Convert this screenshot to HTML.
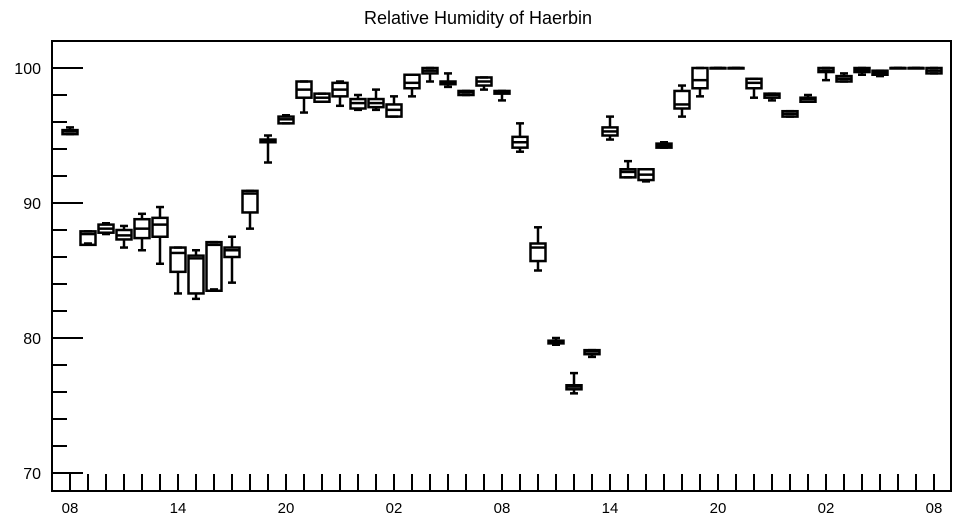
<!DOCTYPE html>
<html><head><meta charset="utf-8"><style>
html,body{margin:0;padding:0;background:#fff;}
svg{display:block;font-family:"Liberation Sans",sans-serif;}
</style></head><body>
<svg id="chart" width="957" height="520" viewBox="0 0 957 520" xmlns="http://www.w3.org/2000/svg">
<text x="478" y="24" text-anchor="middle" font-size="18" fill="#000">Relative Humidity of Haerbin</text>
<rect x="52" y="41" width="899" height="450" fill="none" stroke="#000" stroke-width="2"/>
<g id="axes"></g>
<g id="boxes"></g>
</svg>
<script>
const hourLabels = ["08","14","20","02","08","14","20","02","08"];
const yTicks = [70,80,90,100];
const mins = [95.1,87.0,87.7,86.7,86.5,85.5,83.3,82.9,83.6,84.1,88.1,93.0,95.9,96.7,97.5,97.2,96.9,96.9,96.4,97.9,99.0,98.6,98.0,98.4,97.6,93.8,85.0,79.5,75.9,78.6,94.7,91.9,91.6,94.1,96.4,97.9,100,100,97.8,97.6,96.4,97.5,99.1,99.0,99.5,99.4,100,100,99.6];
const q1s  = [95.1,86.9,87.8,87.3,87.4,87.5,84.9,83.3,83.5,86.0,89.3,94.5,95.9,97.8,97.5,97.9,97.0,97.1,96.4,98.5,99.6,98.8,98.0,98.7,98.1,94.1,85.7,79.6,76.2,78.8,95.0,91.9,91.7,94.1,97.0,98.5,100,100,98.5,97.8,96.4,97.5,99.7,99.0,99.7,99.5,100,100,99.6];
const meds = [95.3,87.7,88.1,87.6,88.1,88.4,86.3,85.9,86.9,86.5,90.7,94.6,96.2,98.4,97.8,98.4,97.4,97.4,96.9,98.9,99.8,98.9,98.2,99.0,98.2,94.5,86.7,79.7,76.4,79.0,95.3,92.3,92.1,94.25,97.3,99.1,100,100,98.9,98.0,96.6,97.7,99.8,99.2,99.85,99.65,100,100,99.8];
const q3s  = [95.4,87.9,88.4,88.0,88.8,88.9,86.7,86.1,87.1,86.7,90.9,94.7,96.4,99.0,98.1,98.9,97.7,97.7,97.3,99.5,100,99.0,98.3,99.3,98.3,94.9,87.0,79.8,76.5,79.1,95.6,92.5,92.5,94.4,98.3,100,100,100,99.2,98.1,96.8,97.8,100,99.4,100,99.8,100,100,100];
const maxs = [95.6,87.9,88.5,88.3,89.2,89.7,86.7,86.5,87.1,87.5,90.9,95.0,96.5,99.0,98.1,99.0,98.0,98.4,97.9,99.5,100,99.6,98.3,99.3,98.3,95.9,88.2,80.0,77.4,79.1,96.4,93.1,92.5,94.5,98.7,100,100,100,99.2,98.1,96.8,98.0,100,99.6,100,99.8,100,100,100];

const NS="http://www.w3.org/2000/svg";
const xOf = i => 70 + i*18;
const yOf = v => 68 + (100-v)*13.5;
function mk(tag, attrs, parent){const e=document.createElementNS(NS,tag);for(const k in attrs)e.setAttribute(k,attrs[k]);parent.appendChild(e);return e;}
const axes=document.getElementById('axes');
const boxes=document.getElementById('boxes');

// y ticks (major + minor every 2)
for(let v=70; v<=100; v+=2){
  const major = v%10===0;
  const t = mk('line',{x1:52,x2:major?83:67,y1:yOf(v),y2:yOf(v),stroke:'#000','stroke-width':2},axes);
  
  
}
yTicks.forEach(v=>{
  const t=mk('text',{x:41,y:yOf(v)+6,'text-anchor':'end','font-size':16,fill:'#000'},axes);
  t.textContent=v;
  
  
});
// x ticks
for(let i=0;i<mins.length;i++){
  const t=mk('line',{x1:xOf(i),x2:xOf(i),y1:474,y2:491,stroke:'#000','stroke-width':2},axes);
  
  
}
hourLabels.forEach((s,k)=>{
  const t=mk('text',{x:xOf(k*6),y:513,'text-anchor':'middle','font-size':15,fill:'#000'},axes);
  t.textContent=s;
  
  
});
// boxes
for(let i=0;i<mins.length;i++){
  const x=xOf(i), hw=7.5, cw=4;
  const g=mk('g',{},boxes);
  
  
  const sw=2.5;
  mk('line',{x1:x,x2:x,y1:yOf(q1s[i]),y2:yOf(mins[i]),stroke:'#000','stroke-width':sw},g);
  mk('line',{x1:x-cw,x2:x+cw,y1:yOf(mins[i]),y2:yOf(mins[i]),stroke:'#000','stroke-width':sw},g);
  mk('line',{x1:x,x2:x,y1:yOf(q3s[i]),y2:yOf(maxs[i]),stroke:'#000','stroke-width':sw},g);
  mk('line',{x1:x-cw,x2:x+cw,y1:yOf(maxs[i]),y2:yOf(maxs[i]),stroke:'#000','stroke-width':sw},g);
  const yt=yOf(q3s[i]), yb=yOf(q1s[i]);
  mk('rect',{x:x-hw,y:yt,width:hw*2,height:Math.max(yb-yt,0.5),fill:'none',stroke:'#000','stroke-width':sw},g);
  mk('line',{x1:x-hw,x2:x+hw,y1:yOf(meds[i]),y2:yOf(meds[i]),stroke:'#000','stroke-width':sw},g);
}
</script>
</body></html>
